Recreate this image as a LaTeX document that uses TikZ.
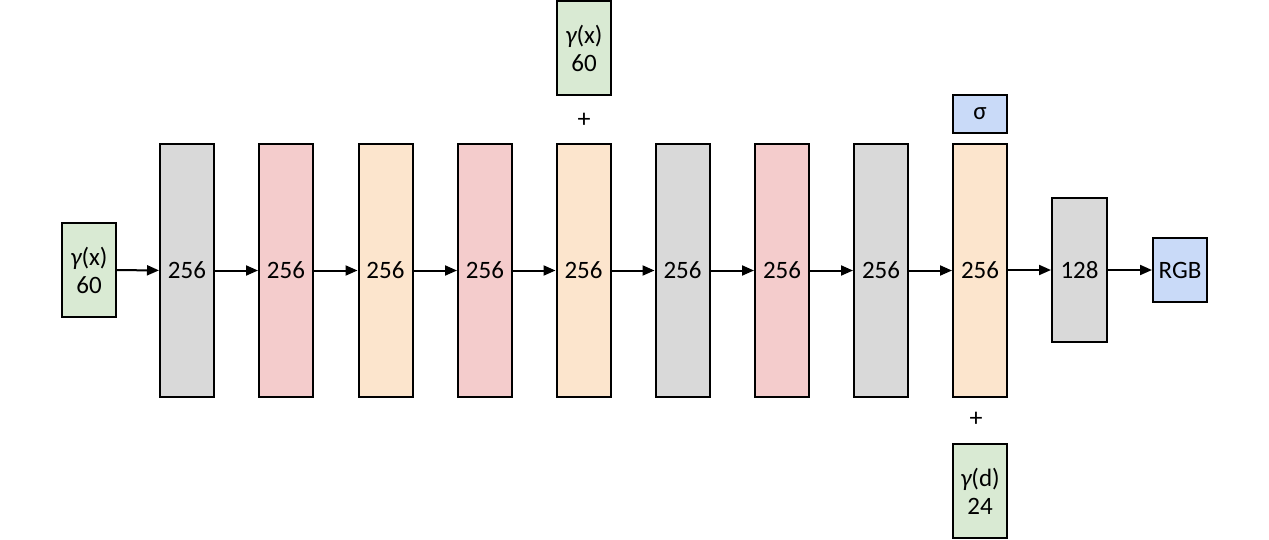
\documentclass[tikz,border=0pt]{standalone}
\usepackage{fontspec}
\setmainfont{Carlito}
\usetikzlibrary{arrows.meta}
\definecolor{cgray}{HTML}{D9D9D9}
\definecolor{cred}{HTML}{F4CCCC}
\definecolor{corange}{HTML}{FCE5CD}
\definecolor{cgreen}{HTML}{D9EAD3}
\definecolor{cblue}{HTML}{C9DAF8}
\newcommand{\gam}{{\itshape γ}}
\tikzset{
  box/.style={draw=black, line width=2pt, inner sep=0pt, align=center, text=black,
    font=\fontsize{25}{28}\selectfont},
  col/.style={box, minimum width=54pt, minimum height=253pt},
  gbox/.style={box, fill=cgreen, minimum width=54pt, minimum height=94pt},
  conn/.style={line width=2pt, -{Triangle[length=12pt,width=10pt]}},
  plus/.style={inner sep=0pt, font=\fontsize{26}{28}\selectfont}
}
\begin{document}
\begin{tikzpicture}[x=1pt,y=-1pt]
\useasboundingbox (0,0) rectangle (1269,539);
\node[gbox] (in) at (89,270) {\gam(x)\\60};
\node[col, fill=cgray]   (c1) at (187,270.5) {256};
\node[col, fill=cred]    (c2) at (286,270.5) {256};
\node[col, fill=corange] (c3) at (385.5,270.5) {256};
\node[col, fill=cred]    (c4) at (485,270.5) {256};
\node[col, fill=corange] (c5) at (583.5,270.5) {256};
\node[col, fill=cgray]   (c6) at (682.5,270.5) {256};
\node[col, fill=cred]    (c7) at (782,270.5) {256};
\node[col, fill=cgray]   (c8) at (881,270.5) {256};
\node[col, fill=corange] (c9) at (980,270.5) {256};
\node[box, fill=cgray, minimum width=55pt, minimum height=144pt] (c10) at (1079.5,270) {128};
\node[box, fill=cblue, minimum width=54pt, minimum height=64pt] (rgb) at (1180,270) {RGB};
\node[box, fill=cblue, minimum width=54pt, minimum height=38pt] (sigma) at (980,114) {σ};
\node[gbox] (gx) at (584,48) {\gam(x)\\60};
\node[plus] (p1) at (584,120) {+};
\node[plus] (p2) at (976,419) {+};
\node[gbox] (gd) at (980,491) {\gam(d)\\24};
\draw[conn] (in) -- (c1);
\draw[conn] (c1) -- (c2);
\draw[conn] (c2) -- (c3);
\draw[conn] (c3) -- (c4);
\draw[conn] (c4) -- (c5);
\draw[conn] (c5) -- (c6);
\draw[conn] (c6) -- (c7);
\draw[conn] (c7) -- (c8);
\draw[conn] (c8) -- (c9);
\draw[conn] (c9.east |- c10) -- (c10);
\draw[conn] (c10) -- (rgb);
\end{tikzpicture}
\end{document}
